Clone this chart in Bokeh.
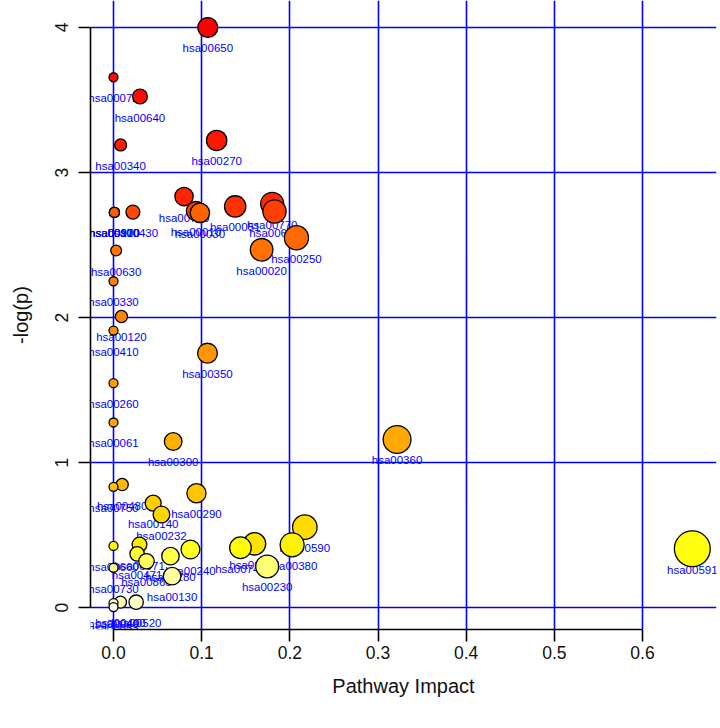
import colorsys
import numpy as np
from bokeh.plotting import figure
from bokeh.models import ColumnDataSource, FixedTicker, PrintfTickFormatter, Range1d
from bokeh.core.properties import value
from bokeh.embed import file_html
from bokeh.resources import INLINE

# ---- data ----
pathways = ["hsa00650", "hsa00072", "hsa00640", "hsa00270", "hsa00340",
            "hsa00760", "hsa00770", "hsa00051", "hsa00010", "hsa00620",
            "hsa00430", "hsa00970", "hsa00910", "hsa00100", "hsa00030",
            "hsa00250", "hsa00020", "hsa00630", "hsa00330", "hsa00120",
            "hsa00410", "hsa00350", "hsa00260", "hsa00061", "hsa00360",
            "hsa00300", "hsa00480", "hsa00750", "hsa00290", "hsa00140",
            "hsa00232", "hsa00590", "hsa00564", "hsa00071", "hsa00380",
            "hsa00660", "hsa00740", "hsa00591", "hsa00240", "hsa00471",
            "hsa00280", "hsa00860", "hsa00230", "hsa00730", "hsa00130",
            "hsa00400", "hsa00520", "hsa00040", "hsa00053"]
impact = [0.107, 0.0, 0.030, 0.117, 0.008,
          0.080, 0.180, 0.138, 0.0935, 0.1826,
          0.022, 0.001, 0.001, 0.001, 0.098,
          0.2075, 0.168, 0.003, 0.0, 0.009,
          0.0, 0.1066, 0.0, 0.0, 0.3216,
          0.0677, 0.0098, 0.0, 0.0941, 0.045,
          0.0544, 0.217, 0.160, 0.0295, 0.2026,
          0.0, 0.144, 0.6565, 0.0873, 0.0268,
          0.0646, 0.0374, 0.1743, 0.0, 0.0665,
          0.0079, 0.0257, 0.0, 0.0]
neglogp = [4.00, 3.657, 3.524, 3.221, 3.19,
           2.834, 2.784, 2.766, 2.734, 2.731,
           2.727, 2.725, 2.725, 2.725, 2.722,
           2.55, 2.467, 2.462, 2.25, 2.007,
           1.91, 1.754, 1.547, 1.276, 1.159,
           1.145, 0.848, 0.832, 0.788, 0.72,
           0.641, 0.554, 0.439, 0.434, 0.432,
           0.425, 0.412, 0.405, 0.40, 0.370,
           0.354, 0.319, 0.283, 0.274, 0.216,
           0.037, 0.037, 0.030, 0.003]
x_ticks = [0.0, 0.1, 0.2, 0.3, 0.4, 0.5, 0.6]
y_ticks = [0, 1, 2, 3, 4]


def heat_colors(n):
    """R's heat.colors(n)"""
    j = n // 4
    i = n - j
    out = []
    hues = np.linspace(0, 1 / 6, i) if i > 1 else [0.0]
    for h in hues:
        out.append(colorsys.hsv_to_rgb(h, 1, 1))
    if j > 0:
        for s in np.linspace(1 - 1 / (2 * j), 1 / (2 * j), j):
            out.append(colorsys.hsv_to_rgb(1 / 6, s, 1))
    return ["#%02X%02X%02X" % tuple(int(255 * c + 0.5) for c in rgb) for rgb in out]


x = np.array(impact)
y = np.array(neglogp)
order = np.argsort(-y, kind="stable")
cols = heat_colors(len(y))
names = [pathways[k] for k in order]
xs = x[order]
ys = y[order]
radius_px = 4.5 + 16.6 * np.sqrt(np.abs(xs))

src = ColumnDataSource(dict(x=xs, y=ys, name=names, color=cols, size=2 * radius_px))

p = figure(width=720, height=728, output_backend="svg", toolbar_location=None,
           x_range=Range1d(-0.02609, 0.68393), y_range=Range1d(-0.1517, 4.1862),
           min_border_left=90, min_border_right=4, min_border_top=0, min_border_bottom=99)
p.outline_line_color = None
p.background_fill_color = "white"
p.border_fill_color = "white"

font = "Liberation Sans"

# axes
p.xaxis.ticker = FixedTicker(ticks=x_ticks)
p.yaxis.ticker = FixedTicker(ticks=y_ticks)
p.xaxis.formatter = PrintfTickFormatter(format="%.1f")
p.xaxis.bounds = (0, 0.6)
p.yaxis.bounds = (0, 4)
for ax in (p.xaxis[0], p.yaxis[0]):
    ax.axis_line_color = "black"
    ax.axis_line_width = 1.6
    ax.major_tick_line_color = "black"
    ax.major_tick_line_width = 1.6
    ax.major_tick_out = 12
    ax.major_tick_in = 0
    ax.minor_tick_line_color = None
    ax.major_label_text_font = font
    ax.major_label_text_font_size = "17.5px"
    ax.major_label_text_color = "#111111"
    ax.axis_label_text_font = font
    ax.axis_label_text_font_size = "20px"
    ax.axis_label_text_font_style = "normal"
    ax.axis_label_text_color = "#111111"
p.xaxis.axis_label = "Pathway Impact"
p.yaxis.axis_label = "-log(p)"
p.xaxis.major_label_standoff = 4
p.xaxis.axis_label_standoff = 13
p.yaxis.major_label_orientation = "vertical"
p.yaxis.major_label_standoff = 10
p.yaxis.axis_label_standoff = 21

# grid
p.xgrid.ticker = FixedTicker(ticks=x_ticks)
p.ygrid.ticker = FixedTicker(ticks=y_ticks)
for g in (p.xgrid[0], p.ygrid[0]):
    g.grid_line_color = "#0000FF"
    g.grid_line_width = 1.6

# labels, then circles on top
p.text(x="x", y="y", text="name", source=src, text_align="center",
       text_baseline="middle", y_offset=21, text_font=value(font),
       text_font_size="11.5px", text_color="#0000FF")
p.scatter(x="x", y="y", size="size", source=src, fill_color="color",
          line_color="black", line_width=1.3)

open("out.html", "w").write(file_html(p, INLINE))
